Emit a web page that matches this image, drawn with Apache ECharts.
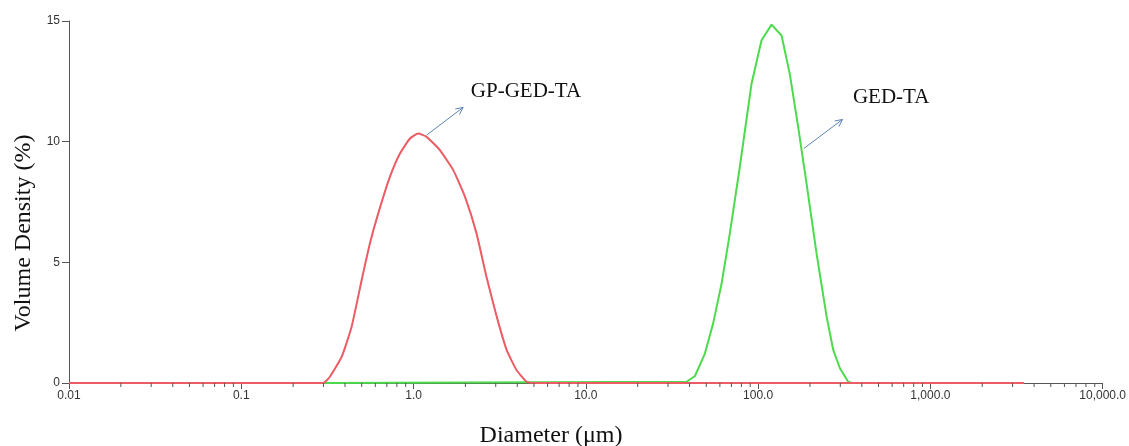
<!DOCTYPE html>
<html>
<head>
<meta charset="utf-8">
<title>Volume density</title>
<script src="https://cdn.jsdelivr.net/npm/echarts@6/dist/echarts.min.js"></script>
<style>
  html, body { margin: 0; padding: 0; background: #fff; }
  #chart { width: 1129px; height: 446px; }
</style>
</head>
<body>
<div id="chart"></div>
<script>
// GP-GED-TA (red)
const redSize = [0.01, 0.299, 0.327, 0.383, 0.437, 0.500, 0.558, 0.624, 0.729, 0.834, 0.953,
  1.064, 1.191, 1.422, 1.70, 1.99, 2.32, 2.65, 3.04, 3.47, 3.96, 4.53, 4.93, 3500]
const redValue = [0, 0, 0.26, 1.09, 2.33, 4.27, 5.78, 7.03, 8.54, 9.51, 10.13,
  10.34, 10.2, 9.65, 8.82, 7.71, 6.2, 4.4, 2.75, 1.37, 0.54, 0.05, 0, 0]

// GED-TA (green)
const greenSize = [0.3, 38.5, 43.0, 49.1, 54.8, 61.4, 68.5, 78.3, 91.6, 104.7, 119.7,
  136.8, 152.8, 170.9, 191.1, 218.4, 249.9, 273, 298.5, 333.4, 350]
const greenValue = [0, 0.05, 0.29, 1.22, 2.46, 4.12, 6.19, 8.95, 12.4, 14.2, 14.85,
  14.4, 12.8, 10.6, 8.26, 5.37, 2.75, 1.37, 0.61, 0.05, 0]

const xTickLabels = ['0.01', '0.1', '1.0', '10.0', '100.0', '1,000.0', '10,000.0']
const yTicks = [0, 5, 10, 15]

// annotations (data coords)
const annoText = ['GP-GED-TA', 'GED-TA']
const arrowStart = [[1.19, 10.27], [184.5, 9.72]]
const arrowEnd = [[1.94, 11.42], [309, 10.92]]
const textAnchor = [[2.15, 12.09], [355, 11.84]]

// minor ticks 2..9 in every decade
const minorTicks = []
for (let e = -2; e < 4; e++) {
  for (let m = 2; m <= 9; m++) minorTicks.push([m * Math.pow(10, e), 0])
}

const axisColor = '#555'
const chart = echarts.init(document.getElementById('chart'))

chart.setOption({
  animation: false,
  grid: { left: 69, right: 26, top: 21, bottom: 63 },
  xAxis: {
    type: 'log',
    logBase: 10,
    min: 0.01,
    max: 10000,
    splitLine: { show: false },
    axisLine: { onZero: false, lineStyle: { color: axisColor, width: 1 } },
    axisTick: { length: 6, lineStyle: { color: axisColor } },
    axisLabel: {
      margin: 7,
      color: '#333',
      fontSize: 12,
      fontFamily: 'Liberation Sans',
      formatter: function (v) {
        const i = Math.round(Math.log10(v)) + 2
        return xTickLabels[i]
      }
    }
  },
  yAxis: {
    type: 'value',
    min: 0,
    max: 15,
    interval: 5,
    splitLine: { show: false },
    axisLine: { show: true, lineStyle: { color: axisColor, width: 1 } },
    axisTick: { show: true, length: 7, lineStyle: { color: axisColor } },
    axisLabel: {
      margin: 9,
      color: '#333',
      fontSize: 12,
      fontFamily: 'Liberation Sans',
      formatter: function (v) { return yTicks.indexOf(v) >= 0 ? String(v) : '' }
    }
  },
  graphic: [
    {
      type: 'text',
      x: 24,
      y: 233,
      rotation: Math.PI / 2,
      style: {
        text: 'Volume Density (%)',
        font: '24px "Liberation Serif"',
        fill: '#111',
        align: 'center',
        verticalAlign: 'middle'
      }
    },
    {
      type: 'text',
      x: 551,
      y: 436,
      style: {
        text: 'Diameter (\u03bcm)',
        font: '24px "Liberation Serif"',
        fill: '#111',
        align: 'center',
        verticalAlign: 'middle'
      }
    }
  ],
  series: [
    {
      name: 'GED-TA',
      type: 'line',
      data: greenSize.map((s, i) => [s, greenValue[i]]),
      showSymbol: false,
      lineStyle: { color: '#4ddb4d', width: 2 },
      z: 2
    },
    {
      name: 'GP-GED-TA',
      type: 'line',
      data: redSize.map((s, i) => [s, redValue[i]]),
      showSymbol: false,
      smooth: 0.15,
      lineStyle: { color: '#eb5c64', width: 2 },
      z: 3
    },
    {
      type: 'custom',
      silent: true,
      clip: false,
      z: 4,
      data: minorTicks,
      encode: { x: 0, y: 1 },
      renderItem: function (params, api) {
        const p = api.coord([api.value(0), 0])
        return {
          type: 'line',
          shape: { x1: p[0], y1: p[1], x2: p[0], y2: p[1] + 4 },
          style: { stroke: axisColor, lineWidth: 1 }
        }
      }
    },
    {
      type: 'custom',
      silent: true,
      clip: false,
      z: 5,
      data: annoText.map((t, i) => [arrowStart[i][0], arrowStart[i][1], arrowEnd[i][0], arrowEnd[i][1], textAnchor[i][0], textAnchor[i][1], i]),
      encode: { x: [0, 2, 4], y: [1, 3, 5] },
      renderItem: function (params, api) {
        const a = api.coord([api.value(0), api.value(1)])
        const b = api.coord([api.value(2), api.value(3)])
        const t = api.coord([api.value(4), api.value(5)])
        const ang = Math.atan2(a[1] - b[1], a[0] - b[0])
        const h = 8
        const w = 0.45
        const h1 = [b[0] + h * Math.cos(ang + w), b[1] + h * Math.sin(ang + w)]
        const h2 = [b[0] + h * Math.cos(ang - w), b[1] + h * Math.sin(ang - w)]
        const st = { stroke: '#5b84b8', lineWidth: 1, fill: null }
        return {
          type: 'group',
          children: [
            { type: 'line', shape: { x1: a[0], y1: a[1], x2: b[0], y2: b[1] }, style: st },
            { type: 'polyline', shape: { points: [h1, b, h2] }, style: st },
            {
              type: 'text',
              x: t[0],
              y: t[1],
              style: {
                text: annoText[api.value(6)],
                font: '21px "Liberation Serif"',
                fill: '#111',
                align: 'left',
                verticalAlign: 'middle'
              }
            }
          ]
        }
      }
    }
  ]
})
</script>
</body>
</html>
